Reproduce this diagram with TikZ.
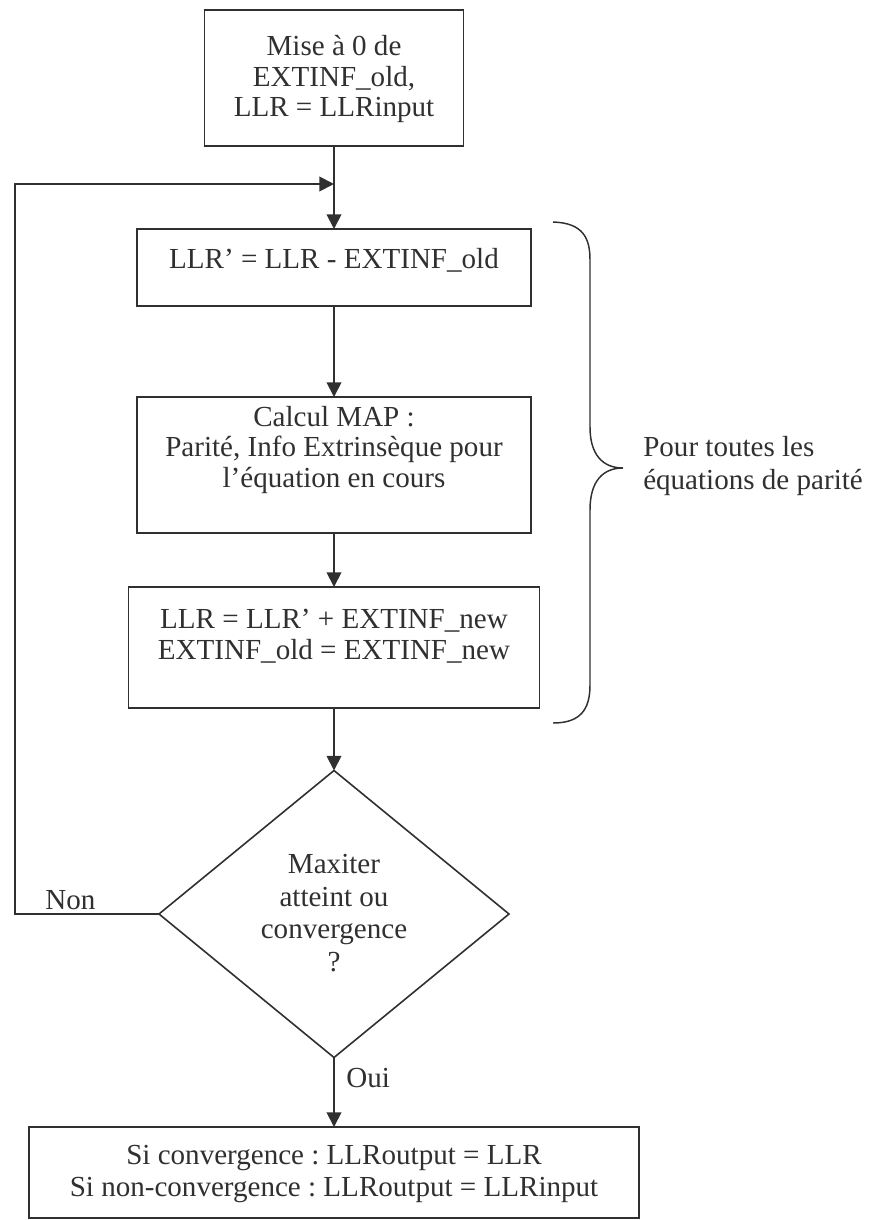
\documentclass[tikz,border=0pt]{standalone}
\usepackage{fontspec}
\setmainfont{Liberation Serif}
\usetikzlibrary{arrows.meta,shapes.geometric}
\definecolor{ink}{HTML}{303030}
\frenchspacing
\begin{document}
\begin{tikzpicture}[x=0.75pt,y=-0.75pt,
  every node/.style={text=ink},
  boxshape/.style={draw=ink,line width=1.4pt,rectangle,inner sep=0pt,outer sep=0pt},
  txt/.style={align=center,inner sep=0pt,font=\fontsize{21.8pt}{22.9pt}\selectfont\frenchspacing},
  txtwide/.style={align=center,inner sep=0pt,font=\fontsize{21.8pt}{24.6pt}\selectfont\frenchspacing},
  arr/.style={draw=ink,line width=1.4pt,-{Triangle[width=11pt,length=11pt]}},
  plain/.style={draw=ink,line width=1.4pt}]
\useasboundingbox (0,0) rectangle (869,1220);
% boxes
\node[boxshape,minimum width=194.25pt,minimum height=102pt] (b1) at (334,78) {};
\node[txt] (t1) at (334,79) {Mise à 0 de\\EXTINF\_old,\\LLR = LLRinput};
\node[boxshape,minimum width=295.5pt,minimum height=57.75pt] (b2) at (334,267.5) {};
\node[txt] (t2) at (334,260) {LLR’ = LLR - EXTINF\_old};
\node[boxshape,minimum width=295.5pt,minimum height=102pt] (b3) at (334,465) {};
\node[txt] (t3) at (334,450) {Calcul MAP :\\Parité, Info Extrinsèque pour\\l’équation en cours};
\node[boxshape,minimum width=308.25pt,minimum height=90.75pt] (b4) at (334,647.5) {};
\node[txt] (t4) at (334,636) {LLR = LLR’ + EXTINF\_new\\EXTINF\_old = EXTINF\_new};
\node[draw=ink,line width=1.2pt,diamond,inner sep=0pt,outer sep=0pt,
      minimum width=262.5pt,minimum height=215.25pt] (dia) at (334,914) {};
\node[txtwide] (td) at (334,913) {Maxiter\\atteint ou\\convergence\\?};
\node[boxshape,minimum width=457.5pt,minimum height=68.25pt] (b5) at (334,1172.5) {};
\node[txtwide] (t5) at (334,1174) {Si convergence : LLRoutput = LLR\\Si non-convergence : LLRoutput = LLRinput};
% connectors
\coordinate (join) at (334,184);
\coordinate (lft) at (15,0);
\draw[plain] (b1.south) -- (join);
\draw[arr] (join) -- (b2.north);
\draw[arr] (b2.south) -- (b3.north);
\draw[arr] (b3.south) -- (b4.north);
\draw[arr] (b4.south) -- (dia.north);
\draw[arr] (dia.south) -- (b5.north);
\draw[arr] (dia.west) -- (dia.west -| lft) |- (join);
\node[txt,anchor=base west] (non) at (45,909) {Non};
\node[txt,anchor=base west] (oui) at (346,1087) {Oui};
% brace
\draw[draw=ink,line width=1.1pt] (553,222) .. controls (583,223) and (590,238) .. (590,260)
  -- (590,427) .. controls (590,455) and (603,468) .. (623,468)
  .. controls (603,468) and (590,481) .. (590,510)
  -- (590,685) .. controls (590,710) and (580,723) .. (553,723);
\node[txtwide,align=left,anchor=west] (lbl) at (643,466) {Pour toutes les\\équations de parité};
\end{tikzpicture}
\end{document}
